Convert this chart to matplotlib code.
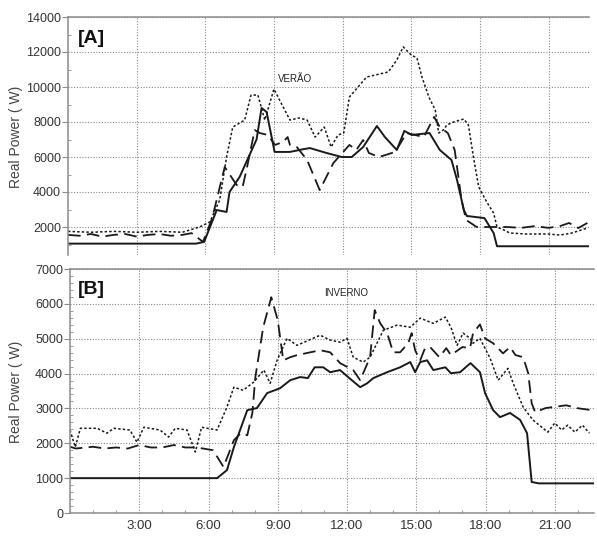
import numpy as np
import matplotlib
matplotlib.use("Agg")
import matplotlib.pyplot as plt
from matplotlib.ticker import MultipleLocator, FixedLocator

plt.rcParams['font.family'] = ['Liberation Sans', 'DejaVu Sans']

# ---- [A] VERAO (summer), hours of day vs real power (W) ----
a_solid_t = [0, 5.6, 5.95, 6.5, 6.93, 7.06, 7.5, 8.24, 8.46, 8.68, 9.03, 9.7, 10.3,
             10.57, 11.3, 11.96, 12.4, 12.9, 13.5, 13.85, 14.37, 14.7, 15.02, 15.8,
             16.25, 16.76, 17.0, 17.3, 17.43, 18.2, 18.6, 18.75, 22.8]
a_solid_v = [1050, 1050, 1150, 2970, 2860, 4000, 4860, 7000, 8800, 8570, 6290, 6290, 6450,
             6510, 6230, 6000, 6000, 6570, 7770, 7140, 6400, 7490, 7260, 7370,
             6400, 5830, 4700, 2970, 2630, 2510, 1660, 900, 900]

a_dash_t = [0, 0.5, 1.0, 1.5, 2.0, 2.5, 3.0, 3.5, 4.0, 4.5, 5.0, 5.4, 5.9, 6.3, 6.85,
            7.37, 7.63, 7.8, 8.16, 8.38, 8.73, 9.05, 9.4, 9.6, 9.7, 10.0, 10.45, 11.0,
            11.6, 12.3, 12.6, 12.9, 13.15, 13.6, 14.3, 14.8, 15.55, 16.0, 16.25, 16.6,
            16.9, 17.2, 17.4, 17.86, 18.4, 19.2, 19.8, 20.4, 21.0, 21.5, 21.9, 22.3, 22.7]
a_dash_v = [1550, 1500, 1600, 1450, 1550, 1600, 1450, 1550, 1600, 1500, 1550, 1650, 1150, 2500, 5430,
            4400, 4290, 5260, 7540, 7370, 7260, 6690, 6860, 7140, 6690, 6570, 5830, 4110,
            5660, 6690, 6400, 6970, 6230, 6000, 6290, 7370, 7140, 8290, 7710, 7370,
            6400, 3540, 2400, 2000, 2000, 2000, 1950, 2050, 1950, 2050, 2230, 1940, 2230]

a_dot_t = [0, 1, 2, 3, 4, 5, 5.75, 6.2, 6.63, 6.93, 7.2, 7.72, 8.0, 8.3, 8.6, 9.0, 9.7,
           10.1, 10.45, 10.8, 11.2, 11.5, 11.8, 12.05, 12.3, 13.05, 14.0, 14.37, 14.65,
           15.0, 15.25, 15.47, 15.77, 16.05, 16.2, 16.4, 16.56, 16.85, 17.3, 17.5, 17.74,
           17.95, 18.3, 18.6, 18.75, 19.05, 19.3, 20.0, 21.0, 21.5, 22.0, 22.7]
a_dot_v = [1750, 1700, 1750, 1700, 1750, 1700, 2000, 2290, 3540, 6000, 7710, 8110, 9540, 9540, 8110, 9880, 8110,
           8230, 8110, 7140, 7710, 6570, 7260, 7370, 9430, 10570, 10860, 11540, 12290,
           11830, 11660, 10570, 9430, 8690, 7370, 7540, 7830, 8000, 8170, 7830, 5830,
           4290, 3430, 2800, 2000, 1830, 1660, 1600, 1600, 1540, 1650, 1940]

# ---- [B] INVERNO (winter) ----
b_solid_t = [0, 6.37, 6.8, 7.1, 7.68, 8.1, 8.54, 9.1, 9.54, 9.97, 10.3, 10.6, 10.97, 11.27,
             11.7, 12.1, 12.57, 12.87, 13.14, 13.74, 14.3, 14.74, 14.95, 15.17, 15.47,
             15.74, 16.26, 16.5, 16.9, 17.35, 17.76, 17.98, 18.33, 18.63, 19.06, 19.5,
             19.8, 20.0, 20.3, 22.7]
b_solid_v = [1000, 1000, 1230, 1890, 2950, 3010, 3440, 3580, 3810, 3900, 3870, 4180, 4180, 4040,
             4100, 3870, 3610, 3720, 3870, 4040, 4180, 4330, 4040, 4330, 4380,
             4100, 4180, 4010, 4040, 4300, 4040, 3440, 2950, 2750, 2870, 2670,
             2290, 890, 850, 850]

b_dash_t = [0, 0.25, 1.0, 1.5, 2.0, 2.5, 3.0, 3.5, 4.0, 4.5, 5.0, 5.5, 6.2, 6.65, 7.1, 7.4,
            7.68, 7.9, 8.03, 8.37, 8.72, 9.0, 9.24, 9.54, 9.84, 10.84, 11.27, 11.7, 12.27,
            12.57, 13.0, 13.2, 13.44, 13.74, 14.0, 14.3, 14.65, 14.8, 14.95, 15.17, 15.38,
            15.6, 16.0, 16.3, 16.5, 17.0, 17.33, 17.46, 17.76, 17.98, 18.33, 18.76, 19.06,
            19.3, 19.63, 19.85, 20.0, 20.15, 20.6, 21.5, 21.95, 22.6]
b_dash_v = [1900, 1850, 1900, 1850, 1880, 1850, 1950, 1880, 1880, 1950, 1880, 1880, 1800, 1320, 2090, 2290,
            2230, 2870, 3900, 5330, 6190, 5530, 4380, 4470, 4530, 4670, 4610, 4300, 4100,
            3810, 4470, 5820, 5440, 5160, 4610, 4610, 4870, 5160, 4670, 4380, 4730,
            4760, 4470, 4730, 4530, 4760, 4730, 5160, 5410, 5010, 4870, 4580, 4760,
            4530, 4470, 4010, 3150, 2890, 3010, 3090, 3010, 2950]

b_dot_t = [0, 0.23, 0.45, 1.18, 1.6, 1.9, 2.6, 2.9, 3.2, 3.9, 4.27, 4.56, 5.07, 5.43, 5.7,
           6.37, 6.8, 7.1, 7.5, 7.95, 8.4, 8.67, 8.97, 9.4, 9.83, 10.84, 11.27, 11.7, 12.0,
           12.27, 12.7, 13.0, 13.57, 14.17, 14.74, 15.17, 15.74, 16.26, 16.5, 16.77,
           17.03, 17.33, 17.46, 17.76, 18.2, 18.55, 18.97, 19.2, 19.63, 20.05, 20.7,
           21.0, 21.3, 21.56, 21.87, 22.2, 22.5]
b_dot_v = [2380, 1890, 2430, 2430, 2290, 2430, 2380, 2030, 2460, 2380, 2180, 2430, 2380, 1750, 2460,
           2380, 3040, 3610, 3520, 3750, 4100, 3720, 4380, 5010, 4810, 5100, 4960, 4900, 5010,
           4470, 4330, 4470, 5240, 5390, 5330, 5590, 5440, 5620, 5330, 4810,
           5160, 5010, 4870, 5010, 4440, 3810, 4150, 3720, 3040, 2670, 2320,
           2580, 2380, 2520, 2320, 2520, 2290]

hour_ticks = [3, 6, 9, 12, 15, 18, 21]
hour_labels = ['3:00', '6:00', '9:00', '12:00', '15:00', '18:00', '21:00']

line_col = '#1a1a1a'
grid_col = '#8a8a8a'
spine_col = '#8c8c8c'
text_col = '#333333'

fig = plt.figure(figsize=(5.97, 5.40), dpi=100)
axA = fig.add_axes([68 / 597, 1 - 255 / 540, 521 / 597, 238 / 540])
axB = fig.add_axes([70 / 597, 1 - 513 / 540, 524 / 597, 244 / 540])


def draw_panel(ax, solid, dash, dot):
    ax.plot(solid[0], solid[1], color=line_col, lw=1.4, ls='-')
    ax.plot(dash[0], dash[1], color=line_col, lw=1.3, ls=(0, (7, 3.5)))
    ax.plot(dot[0], dot[1], color=line_col, lw=1.1, ls=(0, (1.6, 1.4)))
    ax.xaxis.set_major_locator(FixedLocator(hour_ticks))
    ax.xaxis.set_minor_locator(MultipleLocator(1))
    ax.grid(True, which='major', color=grid_col, ls=(0, (1, 1.5)), lw=0.8)
    for s in ax.spines.values():
        s.set_color(spine_col)
        s.set_linewidth(1.1)
    ax.spines['right'].set_visible(False)
    ax.tick_params(axis='y', which='major', direction='out', length=4,
                   color=spine_col, labelsize=9, labelcolor=text_col, pad=1)
    ax.tick_params(axis='y', which='minor', direction='in', length=2.5, color=spine_col)
    ax.tick_params(axis='x', which='major', length=0, labelsize=9.5,
                   labelcolor=text_col, pad=5)
    ax.tick_params(axis='x', which='minor', direction='in', length=2, color=spine_col)


draw_panel(axA, (a_solid_t, a_solid_v), (a_dash_t, a_dash_v), (a_dot_t, a_dot_v))
axA.set_xlim(0, 22.77)
axA.set_ylim(400, 14000)
axA.spines['bottom'].set_visible(False)
axA.yaxis.set_major_locator(FixedLocator(range(2000, 14001, 2000)))
axA.yaxis.set_minor_locator(FixedLocator(range(1000, 14000, 1000)))
axA.set_xticklabels([])
axA.tick_params(axis='x', which='minor', length=0)
axA.text(0.018, 0.91, '[A]', transform=axA.transAxes, fontsize=14,
         fontweight='bold', color='#111111', va='center')
axA.text(9.17, 10450, 'VERÃO', fontsize=7, color='#222222', va='center')

draw_panel(axB, (b_solid_t, b_solid_v), (b_dash_t, b_dash_v), (b_dot_t, b_dot_v))
axB.set_xlim(0, 22.7)
axB.set_ylim(0, 7000)
axB.yaxis.set_major_locator(MultipleLocator(1000))
axB.yaxis.set_minor_locator(MultipleLocator(200))
axB.set_xticklabels(hour_labels)
axB.text(0.015, 0.914, '[B]', transform=axB.transAxes, fontsize=14,
         fontweight='bold', color='#111111', va='center')
axB.text(11.0, 6300, 'INVERNO', fontsize=7, color='#222222', va='center')

fig.text(16 / 597, 1 - 137 / 540, 'Real Power ( W)', rotation=90, ha='center',
         va='center', fontsize=10, color='#444444')
fig.text(16 / 597, 1 - 392 / 540, 'Real Power ( W)', rotation=90, ha='center',
         va='center', fontsize=10, color='#444444')

fig.savefig('out.png', dpi=100)
